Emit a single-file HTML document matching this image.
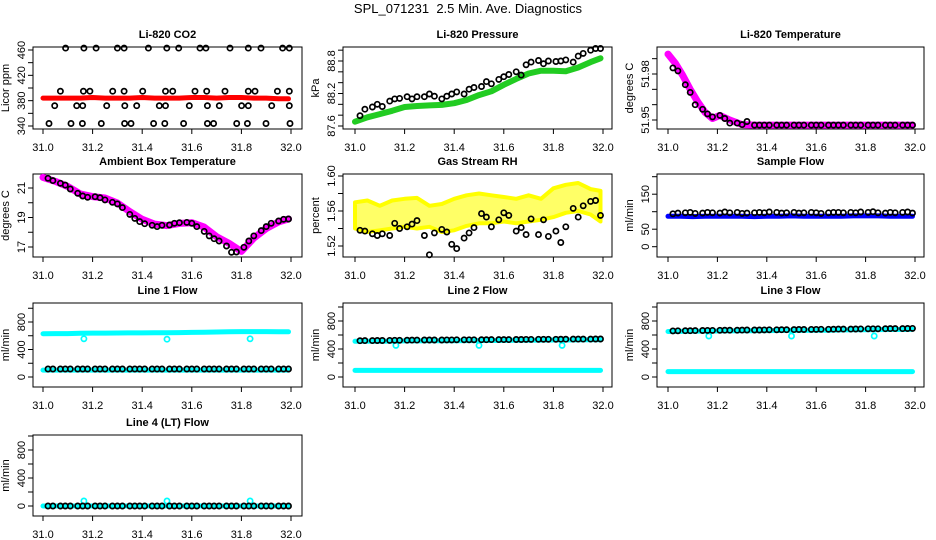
<!DOCTYPE html>
<html><head><meta charset="utf-8">
<style>
html,body{margin:0;padding:0;background:#fff;}
svg{display:block;font-family:"Liberation Sans",Arial,sans-serif;}
</style></head>
<body>
<svg id="chart" width="936" height="540" viewBox="0 0 936 540" xmlns="http://www.w3.org/2000/svg">
<rect width="936" height="540" fill="#fff"/>
<text x="468" y="13" font-size="13" text-anchor="middle">SPL_071231&#160; 2.5 Min. Ave. Diagnostics</text>
</svg>
<script>
// ---- shared times ----
var blackT = [31.02,31.04,31.07,31.09,31.11,31.14,31.16,31.18,31.21,31.23,31.25,31.28,31.30,31.32,31.35,31.37,31.39,31.41,31.44,31.46,31.48,31.51,31.53,31.55,31.58,31.60,31.62,31.65,31.67,31.69,31.71,31.74,31.76,31.78,31.81,31.83,31.85,31.88,31.90,31.92,31.95,31.97,31.99];
var bandT = [31.00,31.05,31.10,31.15,31.20,31.25,31.30,31.35,31.40,31.45,31.50,31.55,31.60,31.65,31.70,31.75,31.80,31.85,31.90,31.95,31.99];
var xTicks = [31.0,31.2,31.4,31.6,31.8,32.0];
var xTickLabels = ["31.0","31.2","31.4","31.6","31.8","32.0"];
var outlierT = [31.165,31.5,31.835];

// ---- CO2 ----
var co2BlackT = [31.091,31.165,31.214,31.300,31.327,31.425,31.499,31.547,31.633,31.657,31.754,31.828,31.879,31.966,31.993,
 31.070,31.163,31.189,31.281,31.327,31.402,31.494,31.523,31.613,31.660,31.734,31.828,31.855,31.945,31.993,
 31.047,31.136,31.160,31.257,31.330,31.378,31.469,31.494,31.590,31.663,31.711,31.801,31.828,31.922,31.993,
 31.024,31.113,31.159,31.235,31.329,31.355,31.446,31.491,31.567,31.663,31.688,31.781,31.824,31.899,31.996];
var co2BlackV = [463,463,463,463,463,463,463,463,463,463,463,463,463,463,463,
 395,395,395,395,395,395,395,395,395,395,395,395,395,395,395,
 372,372,372,372,372,372,372,372,372,372,372,372,372,372,372,
 344,344,344,344,344,344,344,344,344,344,344,344,344,344,344];
var co2Red = [384,384,384,384,385,384,384,384,385,384,384,384,385,385,384,385,385,384,384,383,383];
var co2YTicks = [340,360,380,400,420,440,460];
var co2YLabels = ["340","380","420","460"];

// ---- Pressure ----
var presBlack = [87.79,87.91,87.95,88.00,87.96,88.06,88.10,88.11,88.14,88.10,88.14,88.14,88.19,88.15,88.10,88.15,88.19,88.23,88.19,88.28,88.31,88.33,88.42,88.38,88.46,88.51,88.55,88.60,88.54,88.73,88.78,88.81,88.75,88.80,88.79,88.80,88.82,88.78,88.89,88.94,89.00,89.03,89.03];
var presGreen = [87.68,87.76,87.82,87.88,87.95,87.97,87.98,87.99,88.02,88.08,88.17,88.24,88.36,88.47,88.57,88.62,88.62,88.61,88.68,88.78,88.85];
var presYTicks = [87.6,87.8,88.0,88.2,88.4,88.6,88.8,89.0];
var presYLabels = ["87.6","88.2","88.8"];

// ---- Li-820 Temperature ----
var tempBlack = [51.984,51.982,51.973,51.968,51.960,51.957,51.954,51.952,51.953,51.951,51.948,51.948,51.947,51.949,51.9467,51.9467,51.9467,51.9467,51.9467,51.9467,51.9467,51.9467,51.9467,51.9467,51.9467,51.9467,51.9467,51.9467,51.9467,51.9467,51.9467,51.9467,51.9467,51.9467,51.9467,51.9467,51.9467,51.9467,51.9467,51.9467,51.9467,51.9467,51.9467];
var tempMagT = [31.00,31.03,31.06,31.09,31.12,31.15,31.18,31.21,31.25,31.30,31.35,31.50,31.70,31.99];
var tempMag = [51.993,51.987,51.979,51.970,51.962,51.955,51.951,51.953,51.950,51.947,51.9467,51.9467,51.9467,51.9467];
var tempYTicks = [51.95,51.96,51.97,51.98,51.99];
var tempYLabels = ["51.95","51.98"];

// ---- Ambient Box Temperature ----
var ambBlack = [21.66,21.50,21.32,21.20,20.93,20.64,20.46,20.37,20.41,20.34,20.19,20.03,19.92,19.67,19.21,18.94,18.72,18.58,18.47,18.38,18.47,18.49,18.61,18.65,18.67,18.61,18.38,18.06,17.75,17.56,17.41,17.07,16.64,16.66,16.98,17.41,17.75,18.11,18.38,18.61,18.76,18.88,18.90];
var ambMag = [21.72,21.45,21.10,20.60,20.42,20.32,19.98,19.40,18.88,18.55,18.45,18.60,18.65,18.35,17.70,17.25,16.70,17.60,18.25,18.70,18.90];
var ambYTicks = [17,18,19,20,21];
var ambYLabels = ["17","19","21"];

// ---- Gas Stream RH ----
var rhBlack = [1.538,1.537,1.534,1.532,1.534,1.532,1.546,1.540,1.542,1.545,1.549,1.532,1.510,1.535,1.539,1.536,1.522,1.517,1.529,1.535,1.541,1.557,1.553,1.542,1.550,1.558,1.555,1.537,1.541,1.533,1.551,1.533,1.550,1.531,1.537,1.524,1.542,1.563,1.553,1.566,1.571,1.572,1.555];
var rhYellowHi = [1.570,1.572,1.566,1.572,1.574,1.575,1.566,1.568,1.574,1.578,1.580,1.578,1.576,1.574,1.578,1.574,1.586,1.590,1.592,1.585,1.583];
var rhYellowLo = [1.540,1.536,1.538,1.540,1.542,1.540,1.542,1.536,1.538,1.543,1.546,1.546,1.548,1.546,1.548,1.550,1.553,1.558,1.560,1.556,1.548];
var rhYTicks = [1.52,1.54,1.56,1.58,1.60];
var rhYLabels = ["1.52","1.56","1.60"];

// ---- Sample Flow ----
var sfBlack = [94,96,97,98,95,96,98,97,96,99,97,98,95,96,97,98,97,99,98,96,97,98,96,97,98,97,95,97,98,98,97,98,97,99,98,100,97,96,98,97,98,99,96];
var sfBlue = [87,87,86,87,87,87,87,86,87,87,88,87,87,87,87,88,88,88,87,87,87];
var sfYTicks = [0,50,100,150,200];
var sfYLabels = ["0","50","150"];

// ---- Line flows ----
var flowYTicks = [0,200,400,600,800,1000];
var flowYLabels = ["0","400","800"];
var l1Black = [116,116,116,116,116,116,116,116,116,116,116,116,116,116,116,116,116,116,116,116,116,116,116,116,116,116,116,116,116,116,116,116,116,116,116,116,116,116,116,116,116,116,116];
var l1CyanHi = [630,631,632,635,638,639,640,641,642,644,645,646,648,651,655,657,660,660,660,659,658];
var l1CyanLo = [100,100,100,100,100,100,100,100,100,100,100,100,100,100,100,100,100,100,100,100,100];
var l1Out = [555,550,555];
var l2Black = [519,520,520,521,522,523,524,525,526,527,527,528,528,529,529,530,530,531,531,532,532,533,533,534,534,535,535,536,536,537,537,538,538,539,539,540,540,541,541,542,542,543,543];
var l2CyanHi = [510,510,511,513,515,516,517,518,519,520,521,522,523,524,526,527,528,529,530,531,532];
var l2CyanLo = [95,95,95,95,95,95,95,95,95,95,95,95,95,95,95,95,95,95,95,95,95];
var l2Out = [452,452,452];
var l3Black = [659,660,661,662,663,664,665,666,667,668,668,669,670,671,672,672,673,674,675,676,676,677,678,679,680,680,681,682,683,684,684,685,686,687,688,688,689,690,691,692,692,693,694];
var l3CyanHi = [650,651,653,655,657,659,661,662,663,664,665,666,667,669,672,674,676,677,678,679,680];
var l3CyanLo = [77,77,77,77,77,77,77,77,77,77,77,77,77,77,77,77,77,77,77,77,77];
var l3Out = [586,586,586];
var l4Black = [0,0,0,0,0,0,0,0,0,0,0,0,0,0,0,0,0,0,0,0,0,0,0,0,0,0,0,0,0,0,0,0,0,0,0,0,0,0,0,0,0,0,0];
var l4Cyan = [0,0,0,0,0,0,0,0,0,0,0,0,0,0,0,0,0,0,0,0,0];
var l4Out = [71,71,71];

var NS = "http://www.w3.org/2000/svg";
var svg = document.getElementById("chart");
function mk(tag, attrs, parent){
  var e = document.createElementNS(NS, tag);
  for (var k in attrs) e.setAttribute(k, attrs[k]);
  (parent||svg).appendChild(e);
  return e;
}
function makeScales(p){
  p.sx = function(t){ return p.x31 + (t-31)*(p.x32-p.x31); };
  p.sy = function(v){ return p.py0 + (v-p.v0)*(p.py1-p.py0)/(p.v1-p.v0); };
}
function drawFrame(p){
  var g = mk("g", {});
  
  
  p.g = g;
  var t = mk("text", {x:(p.left+p.right)/2, y:p.top-9, "font-size":11, "font-weight":"bold", "text-anchor":"middle"}, g);
  t.textContent = p.title;
  
  
  var b = mk("rect", {x:p.left, y:p.top, width:p.right-p.left, height:p.bottom-p.top, fill:"none", stroke:"#000", "stroke-width":1}, g);
  
  
  var xa = mk("g", {}, g);
  
  
  xTicks.forEach(function(v,i){
    var x = p.sx(v);
    mk("line", {x1:x, x2:x, y1:p.bottom, y2:p.bottom+5, stroke:"#000"}, xa);
    var tl = mk("text", {x:x, y:p.bottom+22, "font-size":11, "text-anchor":"middle"}, xa);
    tl.textContent = xTickLabels[i];
    
    
  });
  var ya = mk("g", {}, g);
  
  
  p.yTicks.forEach(function(v){
    var y = p.sy(v);
    mk("line", {x1:p.left-5, x2:p.left, y1:y, y2:y, stroke:"#000"}, ya);
  });
  p.yLabels.forEach(function(s){
    var y = p.sy(parseFloat(s));
    var lx = p.left-11;
    var tl = mk("text", {x:lx, y:y, "font-size":11, "text-anchor":"middle", "dominant-baseline":"central", transform:"rotate(-90 "+lx+" "+y+")"}, ya);
    tl.textContent = s;
    
    
  });
  var cy = (p.top+p.bottom)/2, tx = p.left-27;
  var yt = mk("text", {x:tx, y:cy, "font-size":11, "text-anchor":"middle", "dominant-baseline":"central", transform:"rotate(-90 "+tx+" "+cy+")"}, g);
  yt.textContent = p.ylab;
  
  
}
function band(p, ts, vs, color, w, name){
  var pts = ts.map(function(t,i){ return p.sx(t).toFixed(1)+","+p.sy(vs[i]).toFixed(1); }).join(" ");
  var pl = mk("polyline", {points:pts, fill:"none", stroke:color, "stroke-width":w, "stroke-linejoin":"round", "stroke-linecap":"round"}, p.g);
  
  
}
function areaBand(p, ts, lo, hi, color, name){
  var pts = ts.map(function(t,i){ return p.sx(t).toFixed(1)+","+p.sy(hi[i]).toFixed(1); });
  for (var i=ts.length-1;i>=0;i--) pts.push(p.sx(ts[i]).toFixed(1)+","+p.sy(lo[i]).toFixed(1));
  var pg = mk("polygon", {points:pts.join(" "), fill:color, "fill-opacity":0.6, stroke:color, "stroke-width":4, "stroke-linejoin":"round"}, p.g);
  
  
}
function points(p, ts, vs, color, name){
  ts.forEach(function(t,i){
    var c = mk("circle", {cx:p.sx(t).toFixed(1), cy:p.sy(vs[i]).toFixed(1), r:2.6, fill:"none", stroke:color, "stroke-width":1.7}, p.g);
    
    
  });
}
var C1 = {left:33, right:302, x31:43, x32:291};
var C2 = {left:343, right:612, x31:355, x32:603};
var C3 = {left:657, right:924, x31:668, x32:915};
var R1 = {top:47, bottom:129}, R2 = {top:174, bottom:257}, R3 = {top:303, bottom:387}, R4 = {top:435, bottom:516};
function panel(col,row,extra){
  var p = {}; var k;
  for (k in col) p[k]=col[k];
  for (k in row) p[k]=row[k];
  for (k in extra) p[k]=extra[k];
  makeScales(p); drawFrame(p); return p;
}

var p1 = panel(C1,R1,{name:"co2", title:"Li-820 CO2", ylab:"Licor ppm", v0:340, py0:126, v1:460, py1:50, yTicks:co2YTicks, yLabels:co2YLabels});
points(p1, co2BlackT, co2BlackV, "#000", "co2-point");
band(p1, bandT, co2Red, "#ff0000", 5, "co2-series");

var p2 = panel(C2,R1,{name:"pressure", title:"Li-820 Pressure", ylab:"kPa", v0:87.6, py0:126, v1:88.8, py1:61, yTicks:presYTicks, yLabels:presYLabels});
band(p2, bandT, presGreen, "#22cc22", 6, "pressure-series");
points(p2, blackT, presBlack, "#000", "pressure-point");

var p3 = panel(C3,R1,{name:"li820-temp", title:"Li-820 Temperature", ylab:"degrees C", v0:51.95, py0:120, v1:51.98, py1:74, yTicks:tempYTicks, yLabels:tempYLabels});
band(p3, tempMagT, tempMag, "#ff00ff", 7, "li820-temp-series");
points(p3, blackT, tempBlack, "#000", "li820-temp-point");

var p4 = panel(C1,R2,{name:"ambient-temp", title:"Ambient Box Temperature", ylab:"degrees C", v0:17, py0:247, v1:21, py1:188, yTicks:ambYTicks, yLabels:ambYLabels});
band(p4, bandT, ambMag, "#ff00ff", 7, "ambient-temp-series");
points(p4, blackT, ambBlack, "#000", "ambient-temp-point");

var p5 = panel(C2,R2,{name:"gas-rh", title:"Gas Stream RH", ylab:"percent", v0:1.52, py0:246, v1:1.60, py1:176, yTicks:rhYTicks, yLabels:rhYLabels});
areaBand(p5, bandT, rhYellowLo, rhYellowHi, "#ffff00", "gas-rh-series");
points(p5, blackT, rhBlack, "#000", "gas-rh-point");

var p6 = panel(C3,R2,{name:"sample-flow", title:"Sample Flow", ylab:"ml/min", v0:0, py0:246.7, v1:200, py1:176.7, yTicks:sfYTicks, yLabels:sfYLabels});
band(p6, bandT, sfBlue, "#0000ff", 5, "sample-flow-series");
points(p6, blackT, sfBlack, "#000", "sample-flow-point");

var p7 = panel(C1,R3,{name:"line1-flow", title:"Line 1 Flow", ylab:"ml/min", v0:0, py0:377, v1:800, py1:322, yTicks:flowYTicks, yLabels:flowYLabels});
band(p7, bandT, l1CyanHi, "#00ffff", 5, "line1-series-upper");
band(p7, bandT, l1CyanLo, "#00ffff", 5, "line1-series-lower");
points(p7, outlierT, l1Out, "#00ffff", "line1-outlier");
points(p7, blackT, l1Black, "#000", "line1-point");

var p8 = panel(C2,R3,{name:"line2-flow", title:"Line 2 Flow", ylab:"ml/min", v0:0, py0:377, v1:800, py1:321, yTicks:flowYTicks, yLabels:flowYLabels});
band(p8, bandT, l2CyanHi, "#00ffff", 5, "line2-series-upper");
band(p8, bandT, l2CyanLo, "#00ffff", 5, "line2-series-lower");
points(p8, outlierT, l2Out, "#00ffff", "line2-outlier");
points(p8, blackT, l2Black, "#000", "line2-point");

var p9 = panel(C3,R3,{name:"line3-flow", title:"Line 3 Flow", ylab:"ml/min", v0:0, py0:377, v1:800, py1:321, yTicks:flowYTicks, yLabels:flowYLabels});
band(p9, bandT, l3CyanHi, "#00ffff", 5, "line3-series-upper");
band(p9, bandT, l3CyanLo, "#00ffff", 5, "line3-series-lower");
points(p9, outlierT, l3Out, "#00ffff", "line3-outlier");
points(p9, blackT, l3Black, "#000", "line3-point");

var p10 = panel(C1,R4,{name:"line4-flow", title:"Line 4 (LT) Flow", ylab:"ml/min", v0:0, py0:506, v1:800, py1:450, yTicks:flowYTicks, yLabels:flowYLabels});
band(p10, bandT, l4Cyan, "#00ffff", 5, "line4-series");
points(p10, outlierT, l4Out, "#00ffff", "line4-outlier");
points(p10, blackT, l4Black, "#000", "line4-point");
</script>
</body></html>
